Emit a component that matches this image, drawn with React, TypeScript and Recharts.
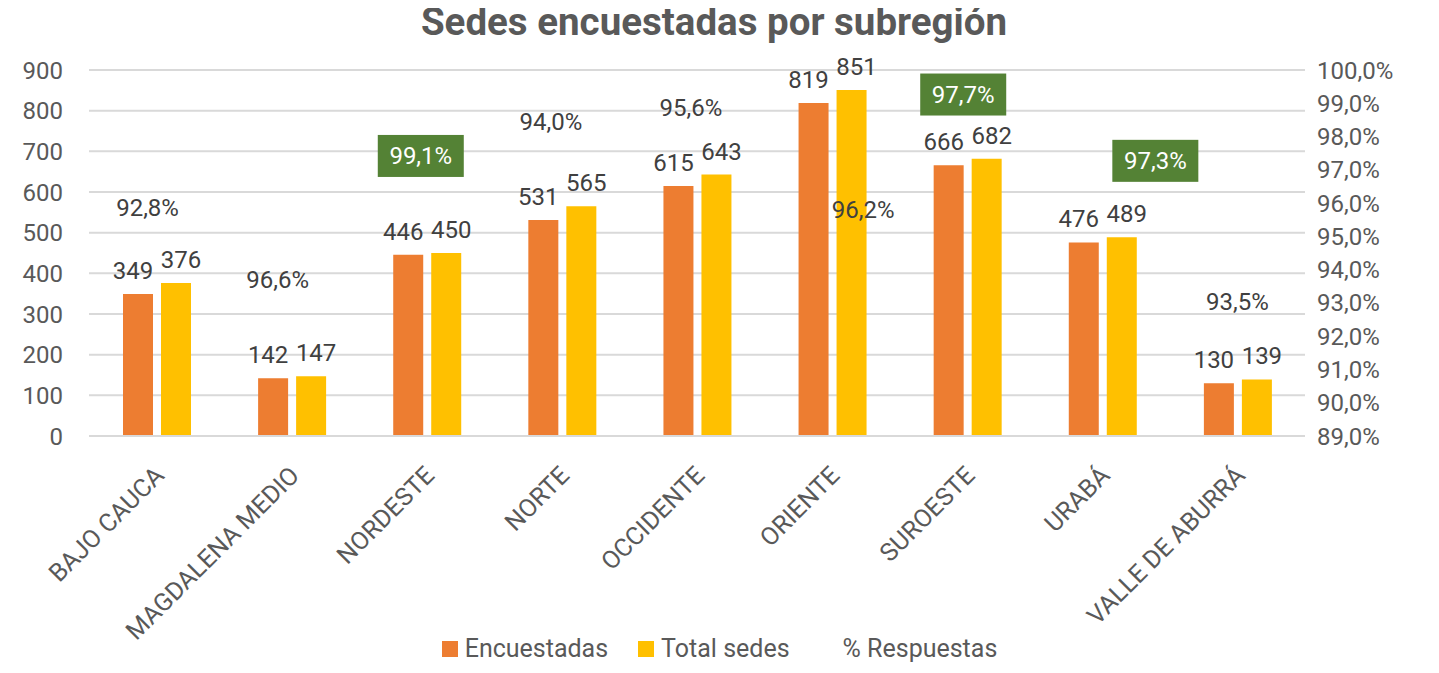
import { ComposedChart, Bar, Line, XAxis, YAxis, CartesianGrid, Legend, LabelList } from 'recharts';

const subregions = [
  'BAJO CAUCA',
  'MAGDALENA MEDIO',
  'NORDESTE',
  'NORTE',
  'OCCIDENTE',
  'ORIENTE',
  'SUROESTE',
  'URABÁ',
  'VALLE DE ABURRÁ',
];
const encuestadas = [349, 142, 446, 531, 615, 819, 666, 476, 130];
const totalSedes = [376, 147, 450, 565, 643, 851, 682, 489, 139];
const pctRespuestas = [0.928, 0.966, 0.991, 0.94, 0.956, 0.962, 0.977, 0.973, 0.935];

const leftTicks = [0, 100, 200, 300, 400, 500, 600, 700, 800, 900];
const rightTicks = [0.89, 0.9, 0.91, 0.92, 0.93, 0.94, 0.95, 0.96, 0.97, 0.98, 0.99, 1.0];
const legendOrder = ['Encuestadas', 'Total sedes', '% Respuestas'];

// labels of the % series were dragged by hand in the original, so nudge them
const pctLabelNudge = [
  [-9, -102],
  [-14, 97],
  [-6, 56],
  [-11, -148],
  [-6, -108],
  [31, 14],
  [-4, -52],
  [53, 1],
  [0, 16],
];

const ORANGE = '#ED7D31';
const YELLOW = '#FFC000';
const GREEN = '#548235';
const AXIS_TEXT = '#595959';
const LABEL_TEXT = '#404040';
const FONT = 'Roboto, sans-serif';

const data = subregions.map((name, i) => ({
  name,
  encuestadas: encuestadas[i],
  total: totalSedes[i],
  pct: pctRespuestas[i],
}));

const fmtPct = (v: number) => (v * 100).toFixed(1).replace('.', ',') + '%';

const CategoryTick = (props: any) => {
  const { x, y, payload } = props;
  return (
    <g transform={`translate(${x + 9},${y + 33})`}>
      <text x={0} y={0} textAnchor="end" fill={AXIS_TEXT} fontSize={25} fontFamily={FONT} transform="rotate(-45)">
        {payload.value}
      </text>
    </g>
  );
};

// shift the pair of bar labels apart a little so they don't touch
const barLabel = (shift: number) => (props: any) => {
  const { x, y, width, value } = props;
  return (
    <text
      x={x + width / 2 + shift}
      y={y - 15}
      textAnchor="middle"
      fill={LABEL_TEXT}
      fontSize={24}
      fontFamily={FONT}
    >
      {value}
    </text>
  );
};

const PctLabel = (props: any) => {
  const { x, y, value, index } = props;
  const [dx, dy] = pctLabelNudge[index] || [0, 0];
  const cx = x + dx;
  const cy = y + dy;
  const highlight = value > 0.97;
  return (
    <g>
      {highlight && <rect x={cx - 43} y={cy - 21} width={86} height={42} fill={GREEN} />}
      <text
        x={cx}
        y={cy}
        textAnchor="middle"
        dominantBaseline="central"
        fontSize={24}
        fontFamily={FONT}
        fill={highlight ? '#FFFFFF' : LABEL_TEXT}
      >
        {fmtPct(value)}
      </text>
    </g>
  );
};

const LegendContent = (props: any) => {
  const payload = [...(props.payload || [])].sort(
    (a: any, b: any) => legendOrder.indexOf(a.value) - legendOrder.indexOf(b.value)
  );
  return (
    <div
      style={{
        display: 'flex',
        alignItems: 'center',
        justifyContent: 'center',
        paddingLeft: 30,
        fontFamily: FONT,
        fontSize: 25,
        lineHeight: '30px',
        color: AXIS_TEXT,
      }}
    >
      {payload.map((entry: any) => (
        <div key={entry.value} style={{ display: 'flex', alignItems: 'center', marginRight: 30 }}>
          <span
            style={{
              width: 16,
              height: 16,
              marginRight: 7,
              background: entry.type === 'line' ? 'transparent' : entry.color,
              display: 'inline-block',
            }}
          />
          <span>{entry.value}</span>
        </div>
      ))}
    </div>
  );
};

export default function App() {
  // negative margins cancel the body margin so the chart fills the whole window
  return (
    <div
      style={{
        position: 'relative',
        width: 1423,
        height: 673,
        marginTop: -8,
        marginBottom: -8,
        fontFamily: FONT,
      }}
    >
      <div
        style={{
          position: 'absolute',
          top: 2,
          left: 0,
          width: 1412,
          textAlign: 'center',
          fontSize: 38.5,
          lineHeight: '39px',
          fontWeight: 700,
          color: AXIS_TEXT,
        }}
      >
        Sedes encuestadas por subregión
      </div>
      <ComposedChart width={1423} height={673} data={data} margin={{ top: 70, right: 0, left: 0, bottom: 0 }} barGap={8}>
        <CartesianGrid yAxisId="left" vertical={false} stroke="#D9D9D9" strokeWidth={2} />
        <XAxis
          dataKey="name"
          interval={0}
          height={207}
          tickLine={false}
          axisLine={{ stroke: '#D9D9D9', strokeWidth: 2 }}
          tick={<CategoryTick />}
        />
        <YAxis
          yAxisId="left"
          width={81}
          domain={[0, 900]}
          ticks={leftTicks}
          axisLine={false}
          tickLine={false}
          tickMargin={20}
          tick={{ fill: AXIS_TEXT, fontSize: 24, fontFamily: FONT }}
        />
        <YAxis
          yAxisId="right"
          orientation="right"
          width={126}
          domain={[0.89, 1.0]}
          ticks={rightTicks}
          allowDataOverflow
          axisLine={false}
          tickLine={false}
          tickMargin={6}
          tickFormatter={fmtPct}
          tick={{ fill: AXIS_TEXT, fontSize: 24, fontFamily: FONT, textAnchor: 'start' }}
        />
        <Legend
          verticalAlign="bottom"
          content={<LegendContent />}
          wrapperStyle={{ top: 634, left: 0, width: 1423, height: 30 }}
        />
        <Bar yAxisId="left" dataKey="encuestadas" name="Encuestadas" fill={ORANGE} barSize={30} isAnimationActive={false}>
          <LabelList dataKey="encuestadas" content={barLabel(-5)} />
        </Bar>
        <Bar yAxisId="left" dataKey="total" name="Total sedes" fill={YELLOW} barSize={30} isAnimationActive={false}>
          <LabelList dataKey="total" content={barLabel(5)} />
        </Bar>
        <Line
          yAxisId="right"
          dataKey="pct"
          name="% Respuestas"
          stroke="none"
          dot={false}
          activeDot={false}
          legendType="line"
          isAnimationActive={false}
        >
          <LabelList dataKey="pct" content={<PctLabel />} />
        </Line>
      </ComposedChart>
    </div>
  );
}
